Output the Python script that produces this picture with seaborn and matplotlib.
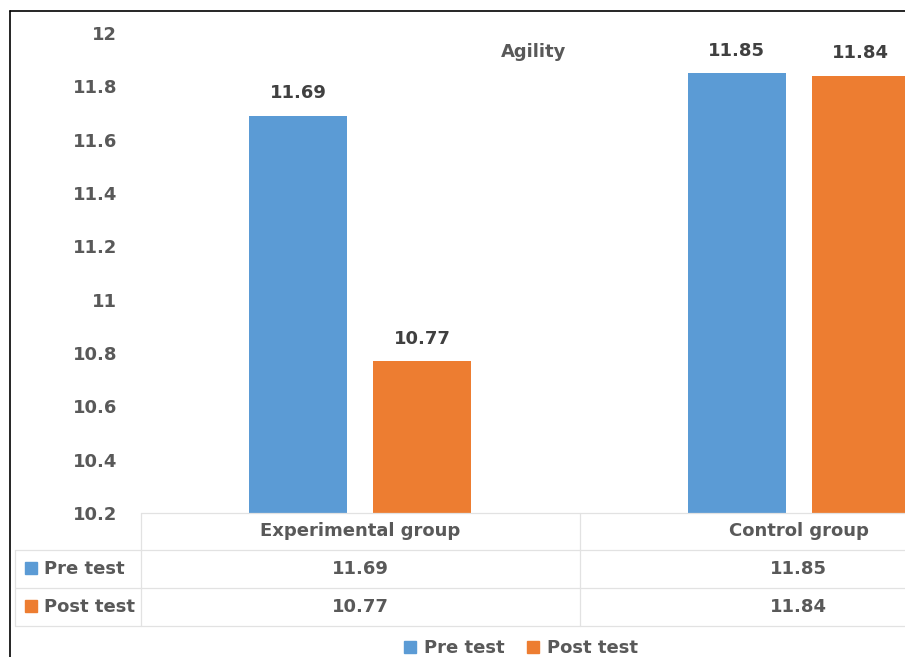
import matplotlib
matplotlib.use("Agg")
import matplotlib.pyplot as plt
from matplotlib.lines import Line2D
import matplotlib.transforms as mtransforms
import pandas as pd
import seaborn as sns

# ---- data ----
groups = ["Experimental group", "Control group"]
series = ["Pre test", "Post test"]
pre_test = [11.69, 11.85]
post_test = [10.77, 11.84]
y_ticks = [10.2, 10.4, 10.6, 10.8, 11, 11.2, 11.4, 11.6, 11.8, 12]
title = "Agility"

colors = {"Pre test": "#5B9BD5", "Post test": "#ED7D31"}
label_color = "#404040"
text_color = "#595959"
grid_color = "#E2E2E2"
FS = 13

df = pd.DataFrame({
    "group": groups * 2,
    "test": [series[0]] * len(groups) + [series[1]] * len(groups),
    "value": pre_test + post_test,
})

sns.set_theme(style="white")
plt.rcParams["font.family"] = ["DejaVu Sans"]
plt.rcParams["font.weight"] = "bold"

W, H = 905, 657
fig = plt.figure(figsize=(W / 100, H / 100), dpi=100)
fig.patch.set_facecolor("white")


def fx(px):
    return px / W


def fy(py):
    return 1 - py / H


# plot area (runs past the right edge of the canvas)
ax_left, ax_right, ax_top, ax_bottom = 141, 1018, 33, 513
ax = fig.add_axes([fx(ax_left), fy(ax_bottom), (ax_right - ax_left) / W, (ax_bottom - ax_top) / H])

sns.barplot(data=df, x="group", y="value", hue="test", order=groups, hue_order=series,
            palette=colors, width=0.566, gap=0.21, ax=ax, legend=False,
            saturation=1, linewidth=0)

ax.set_ylim(10.2, 12)
ax.set_xlim(-0.5, 1.5)
ax.set_yticks(y_ticks)
ax.set_yticklabels([f"{t:g}" for t in y_ticks], fontsize=FS, color=text_color, fontweight="bold")
ax.tick_params(axis="y", length=0, pad=17)
ax.set_xticks([])
ax.set_xlabel("")
ax.set_ylabel("")
for s in ax.spines.values():
    s.set_visible(False)

# value labels above bars
for cont in ax.containers:
    ax.bar_label(cont, labels=[f"{v:.2f}" for v in cont.datavalues], padding=9.5,
                 fontsize=FS, fontweight="bold", color=label_color)

# title
fig.text(fx(534), fy(52), title, ha="center", va="center", fontsize=FS, color=text_color,
         fontweight="bold")

# ---- data table below the plot ----
bt = mtransforms.blended_transform_factory(ax.transData, fig.transFigure)
row_y = [513, 550, 588, 626]
lw = 0.9

# horizontal rules
fig.add_artist(Line2D([-0.5, 1.5], [fy(row_y[0])] * 2, transform=bt, color=grid_color, lw=lw))
for ry in row_y[1:]:
    fig.add_artist(Line2D([fx(15), fx(W + 200)], [fy(ry)] * 2, transform=fig.transFigure,
                          color=grid_color, lw=lw))
# vertical rules
fig.add_artist(Line2D([fx(15), fx(15)], [fy(row_y[1]), fy(row_y[3])], transform=fig.transFigure,
                      color=grid_color, lw=lw))
for xb in [-0.5, 0.5, 1.5]:
    fig.add_artist(Line2D([xb, xb], [fy(row_y[0]), fy(row_y[3])], transform=bt,
                          color=grid_color, lw=lw))

# header row
for i, g in enumerate(groups):
    fig.text(i, fy(531), g, transform=bt, ha="center", va="center", fontsize=FS,
             color=text_color, fontweight="bold")

# series rows with colour keys
row_centers = [569, 607]
for r, (name, vals) in enumerate(zip(series, [pre_test, post_test])):
    yc = fy(row_centers[r])
    fig.add_artist(Line2D([fx(31)], [fy(row_centers[r] - 1.5)], transform=fig.transFigure,
                          marker="s", markersize=8.5, color=colors[name], linestyle="none"))
    fig.text(fx(44), yc, name, ha="left", va="center", fontsize=FS, color=text_color,
             fontweight="bold")
    for i, v in enumerate(vals):
        fig.text(i, yc, f"{v:.2f}", transform=bt, ha="center", va="center", fontsize=FS,
                 color=text_color, fontweight="bold")

# legend at the bottom
handles = [Line2D([0], [0], marker="s", linestyle="none", markersize=8.5, color=colors[s])
           for s in series]
fig.legend(handles, series, loc="center", bbox_to_anchor=(fx(521), fy(648)), ncol=2,
           frameon=False, labelcolor=text_color, handlelength=0.7, handletextpad=0.45,
           columnspacing=1.2, borderpad=0, prop={"weight": "bold", "size": FS})

# chart area border (top and left edges)
fig.add_artist(Line2D([fx(10), fx(W + 10)], [fy(11), fy(11)], transform=fig.transFigure,
                      color="black", lw=1.2))
fig.add_artist(Line2D([fx(10), fx(10)], [fy(11), fy(H + 10)], transform=fig.transFigure,
                      color="black", lw=1.2))

fig.savefig("out.png", dpi=100, facecolor="white")
